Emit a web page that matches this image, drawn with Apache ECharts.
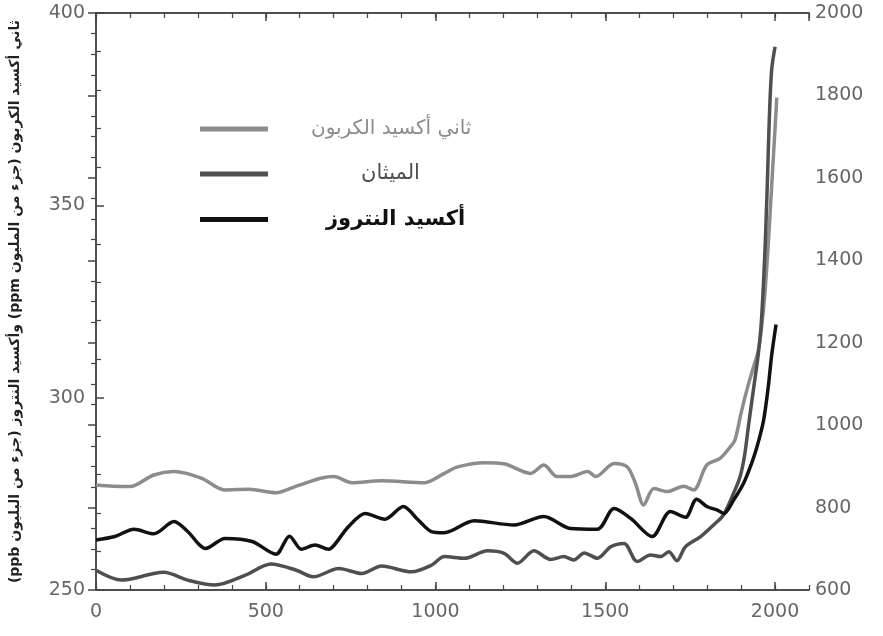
<!DOCTYPE html>
<html>
<head>
<meta charset="utf-8">
<script src="https://cdn.jsdelivr.net/npm/echarts@6/dist/echarts.min.js"></script>
<style>
  html, body { margin: 0; padding: 0; background: #fff; }
  #chart { width: 883px; height: 636px; }
</style>
</head>
<body>
<div id="chart" dir="rtl"></div>
<script>
  // years, values
  const co2Years = [0, 50, 100, 170, 230, 310, 380, 450, 530, 590, 665, 700, 754, 841, 968, 1026, 1065, 1144, 1202, 1280, 1319, 1358, 1399, 1448, 1472, 1526, 1565, 1589, 1613, 1643, 1682, 1731, 1760, 1799, 1838, 1868, 1882, 1900, 1920, 1940, 1950, 1960, 1970, 1980, 1990, 2000, 2005];
  const co2Values = [277.3, 277.0, 276.9, 279.9, 280.8, 279.1, 276.0, 276.2, 275.3, 277.0, 279.1, 279.5, 277.9, 278.4, 277.9, 280.3, 282.0, 283.1, 282.8, 280.3, 282.5, 279.5, 279.5, 280.8, 279.5, 282.9, 282.0, 277.7, 272.1, 276.4, 275.6, 277.0, 276.0, 282.5, 284.2, 287.2, 289, 296, 303, 309, 312, 318, 327, 340, 355, 370, 378];

  const ch4Years = [0, 75, 170, 200, 270, 350, 440, 515, 590, 640, 715, 783, 841, 929, 988, 1026, 1085, 1153, 1202, 1241, 1290, 1339, 1378, 1407, 1438, 1477, 1516, 1555, 1594, 1633, 1663, 1687, 1711, 1736, 1780, 1819, 1848, 1878, 1897, 1910, 1922, 1937, 1951, 1960, 1970, 1977, 1983, 1990, 2000];
  const ch4Values = [648, 624, 640, 643, 624, 612, 636, 663, 648, 632, 652, 640, 658, 644, 660, 681, 677, 695, 689, 665, 695, 674, 681, 673, 690, 677, 705, 713, 669, 685, 681, 693, 671, 705, 729, 758, 782, 835, 875, 925, 1000, 1090, 1175, 1255, 1418, 1579, 1741, 1862, 1918];

  const n2oYears = [0, 55, 112, 170, 230, 270, 323, 380, 460, 530, 570, 605, 645, 685, 700, 744, 793, 851, 905, 949, 988, 1026, 1114, 1231, 1319, 1397, 1477, 1526, 1575, 1638, 1692, 1736, 1769, 1799, 1829, 1849, 1878, 1907, 1927, 1946, 1966, 1980, 1990, 2003];
  const n2oValues = [263.0, 263.9, 265.8, 264.6, 267.8, 265.2, 260.8, 263.4, 262.6, 259.3, 264.0, 260.6, 261.7, 260.6, 261.5, 266.5, 269.9, 268.4, 271.7, 268.2, 265.2, 264.9, 268.0, 266.9, 269.1, 266.0, 265.8, 271.2, 268.6, 263.9, 270.4, 268.9, 273.6, 271.7, 270.8, 269.9, 273.4, 277.7, 282.0, 287.0, 294.0, 302.8, 311.0, 319.0];

  const seriesNames = ['ثاني أكسيد الكربون', 'الميثان', 'أكسيد النتروز'];
  const seriesColors = ['#8c8c8c', '#4f4f4f', '#111111'];
  const leftAxisName = 'ثاني أكسيد الكربون (جزء من المليون ppm) وأكسيد النتروز (جزء من البليون ppb)';

  const zip = (xs, ys) => xs.map((x, i) => [x, ys[i]]);

  // plain numbers, no thousands separator
  const labelFont = { fontFamily: 'DejaVu Sans', fontSize: 19, color: '#666', formatter: (v) => String(v) };
  const axisLine = { show: true, lineStyle: { color: '#444', width: 1.5 } };

  // x axes: 0 = labels + long ticks, 1 = short ticks, 2/3 = same on top edge
  const xAxes = [
    { type: 'value', position: 'bottom', min: 0, max: 2100, interval: 500,
      axisLine: axisLine, splitLine: { show: false },
      axisTick: { inside: true, length: 8, lineStyle: { color: '#444', width: 1.5 } },
      axisLabel: Object.assign({ margin: 13, showMaxLabel: false }, labelFont) },
    { type: 'value', position: 'bottom', min: 0, max: 2100, interval: 100,
      axisLine: axisLine, splitLine: { show: false },
      axisTick: { inside: true, length: 5, lineStyle: { color: '#444', width: 1.2 } },
      axisLabel: { show: false } },
    { type: 'value', position: 'top', min: 0, max: 2100, interval: 500,
      axisLine: axisLine, splitLine: { show: false },
      axisTick: { inside: true, length: 8, lineStyle: { color: '#444', width: 1.5 } },
      axisLabel: { show: false } },
    { type: 'value', position: 'top', min: 0, max: 2100, interval: 100,
      axisLine: axisLine, splitLine: { show: false },
      axisTick: { inside: true, length: 5, lineStyle: { color: '#444', width: 1.2 } },
      axisLabel: { show: false } }
  ];

  const option = {
    animation: false,
    backgroundColor: '#fff',
    grid: { left: 93, right: 74, top: 13, bottom: 46 },
    legend: {
      orient: 'vertical',
      left: 195,
      top: 114,
      icon: 'rect',
      itemWidth: 68,
      itemHeight: 5,
      itemGap: 24.5,
      selectedMode: false,
      textStyle: { fontFamily: 'DejaVu Sans', fontSize: 21, lineHeight: 20 },
      data: [
        { name: seriesNames[0], textStyle: { color: seriesColors[0], fontSize: 20, padding: [0, 0, 0, 38] } },
        { name: seriesNames[1], textStyle: { color: seriesColors[1], padding: [0, 0, 0, 88] } },
        { name: seriesNames[2], textStyle: { color: seriesColors[2], fontWeight: 'bold', padding: [0, 0, 0, 53] } }
      ]
    },
    xAxis: xAxes,
    yAxis: [
      { type: 'value', position: 'left', min: 250, max: 400, interval: 50,
        name: leftAxisName, nameLocation: 'middle', nameGap: 74, nameRotate: 90,
        nameTextStyle: { fontFamily: 'DejaVu Sans', fontSize: 14, fontWeight: 'bold', color: '#222' },
        axisLine: axisLine, splitLine: { show: false },
        axisTick: { inside: true, length: 8, lineStyle: { color: '#444', width: 1.5 } },
        minorTick: { show: true, splitNumber: 5, length: 5, lineStyle: { color: '#444', width: 1.2 } },
        axisLabel: Object.assign({ margin: 11 }, labelFont) },
      { type: 'value', position: 'right', min: 600, max: 2000, interval: 200,
        axisLine: axisLine, splitLine: { show: false },
        axisTick: { inside: true, length: 8, lineStyle: { color: '#444', width: 1.5 } },
        minorTick: { show: true, splitNumber: 4, length: 5, lineStyle: { color: '#444', width: 1.2 } },
        axisLabel: Object.assign({ margin: 6 }, labelFont) }
    ],
    series: [
      { name: seriesNames[0], type: 'line', xAxisIndex: 0, yAxisIndex: 0,
        data: zip(co2Years, co2Values), showSymbol: false, smooth: 0.3,
        lineStyle: { color: seriesColors[0], width: 3.5 }, itemStyle: { color: seriesColors[0] } },
      { name: seriesNames[1], type: 'line', xAxisIndex: 0, yAxisIndex: 1,
        data: zip(ch4Years, ch4Values), showSymbol: false, smooth: 0.3,
        lineStyle: { color: seriesColors[1], width: 3.5 }, itemStyle: { color: seriesColors[1] } },
      { name: seriesNames[2], type: 'line', xAxisIndex: 0, yAxisIndex: 0,
        data: zip(n2oYears, n2oValues), showSymbol: false, smooth: 0.3,
        lineStyle: { color: seriesColors[2], width: 3.5 }, itemStyle: { color: seriesColors[2] } }
    ]
  };

  var myChart = echarts.init(document.getElementById('chart'));
  myChart.setOption(option);
</script>
</body>
</html>
